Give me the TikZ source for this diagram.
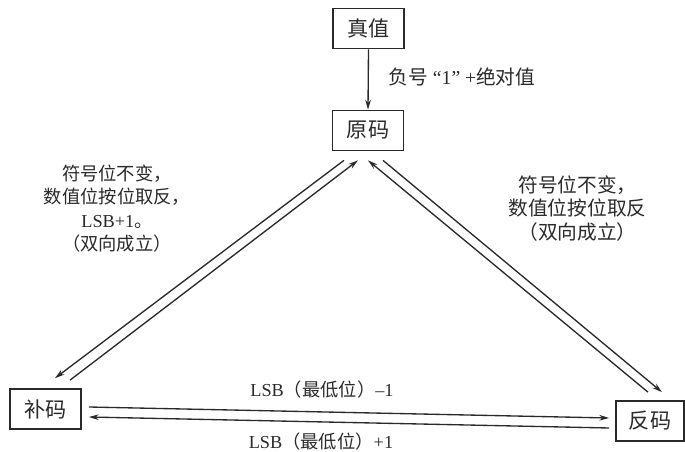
\documentclass[tikz,border=0pt]{standalone}
\usepackage{fontspec}
\setmainfont{Liberation Serif}
\newfontfamily\cjk{Noto Sans CJK SC}
\usetikzlibrary{arrows.meta,calc}
\definecolor{ink}{HTML}{2A2A2A}
\begin{document}
\begin{tikzpicture}[x=0.025cm,y=-0.025cm,
  box/.style={draw=ink,line width=1.2pt,minimum width=1.775cm,minimum height=1cm,
    inner sep=0pt,text=ink,font=\cjk\fontsize{15}{17}\selectfont},
  arr/.style={draw=ink,line width=0.95pt,-{Stealth[length=7pt,width=4pt]}},
  lbl/.style={text=ink,inner sep=0pt,align=center,font=\cjk\fontsize{13}{16.7}\selectfont},
  lblb/.style={lbl,font=\cjk\fontsize{14}{16.7}\selectfont}]
\useasboundingbox[fill=white] (0,0) rectangle (685,452);
% boxes
\node[box] (zhen) at (368.5,28.5) {真值};
\node[box] (yuan) at (368,130.5) {原码};
\node[box] (bu) at (45.5,409) {补码};
\node[box,minimum width=1.7cm] (fan) at (650,421) {反码};
% connectors
\draw[arr] (zhen.south) -- (yuan.north);
\draw[arr] ($(yuan.south)+(-24,9)$) -- ($(bu.north)+(9.5,-10)$);
\draw[arr] ($(bu.north)+(24.5,-8)$) -- ($(yuan.south)+(-10,9)$);
\draw[arr] ($(yuan.south)+(15,9)$) -- ($(fan.north)+(12,-8)$);
\draw[arr] ($(fan.north)+(-2,-8)$) -- ($(yuan.south)+(0,9)$);
\draw[arr] ($(bu.east)+(7,-2)$) -- ($(fan.west)+(-6,-3)$);
\draw[arr] ($(fan.west)+(-6,7)$) -- ($(bu.east)+(7,8)$);
% labels
\node[lblb] (tneg) at (462,77) {负号{\rmfamily\ “1” +}绝对值};
\node[lbl] (tleft) at (117,208.5) {符号位不变，\\数值位按位取反，\\{\rmfamily LSB+1}。\\（双向成立）};
\node[lblb] (tright) at (577.5,208.5) {符号位不变，\\数值位按位取反\\（双向成立）};
\node[lbl] (tminus) at (322,390) {{\rmfamily LSB}（最低位）{\rmfamily –1}};
\node[lbl] (tplus) at (321,442) {{\rmfamily LSB}（最低位）{\rmfamily +1}};
\end{tikzpicture}
\end{document}
